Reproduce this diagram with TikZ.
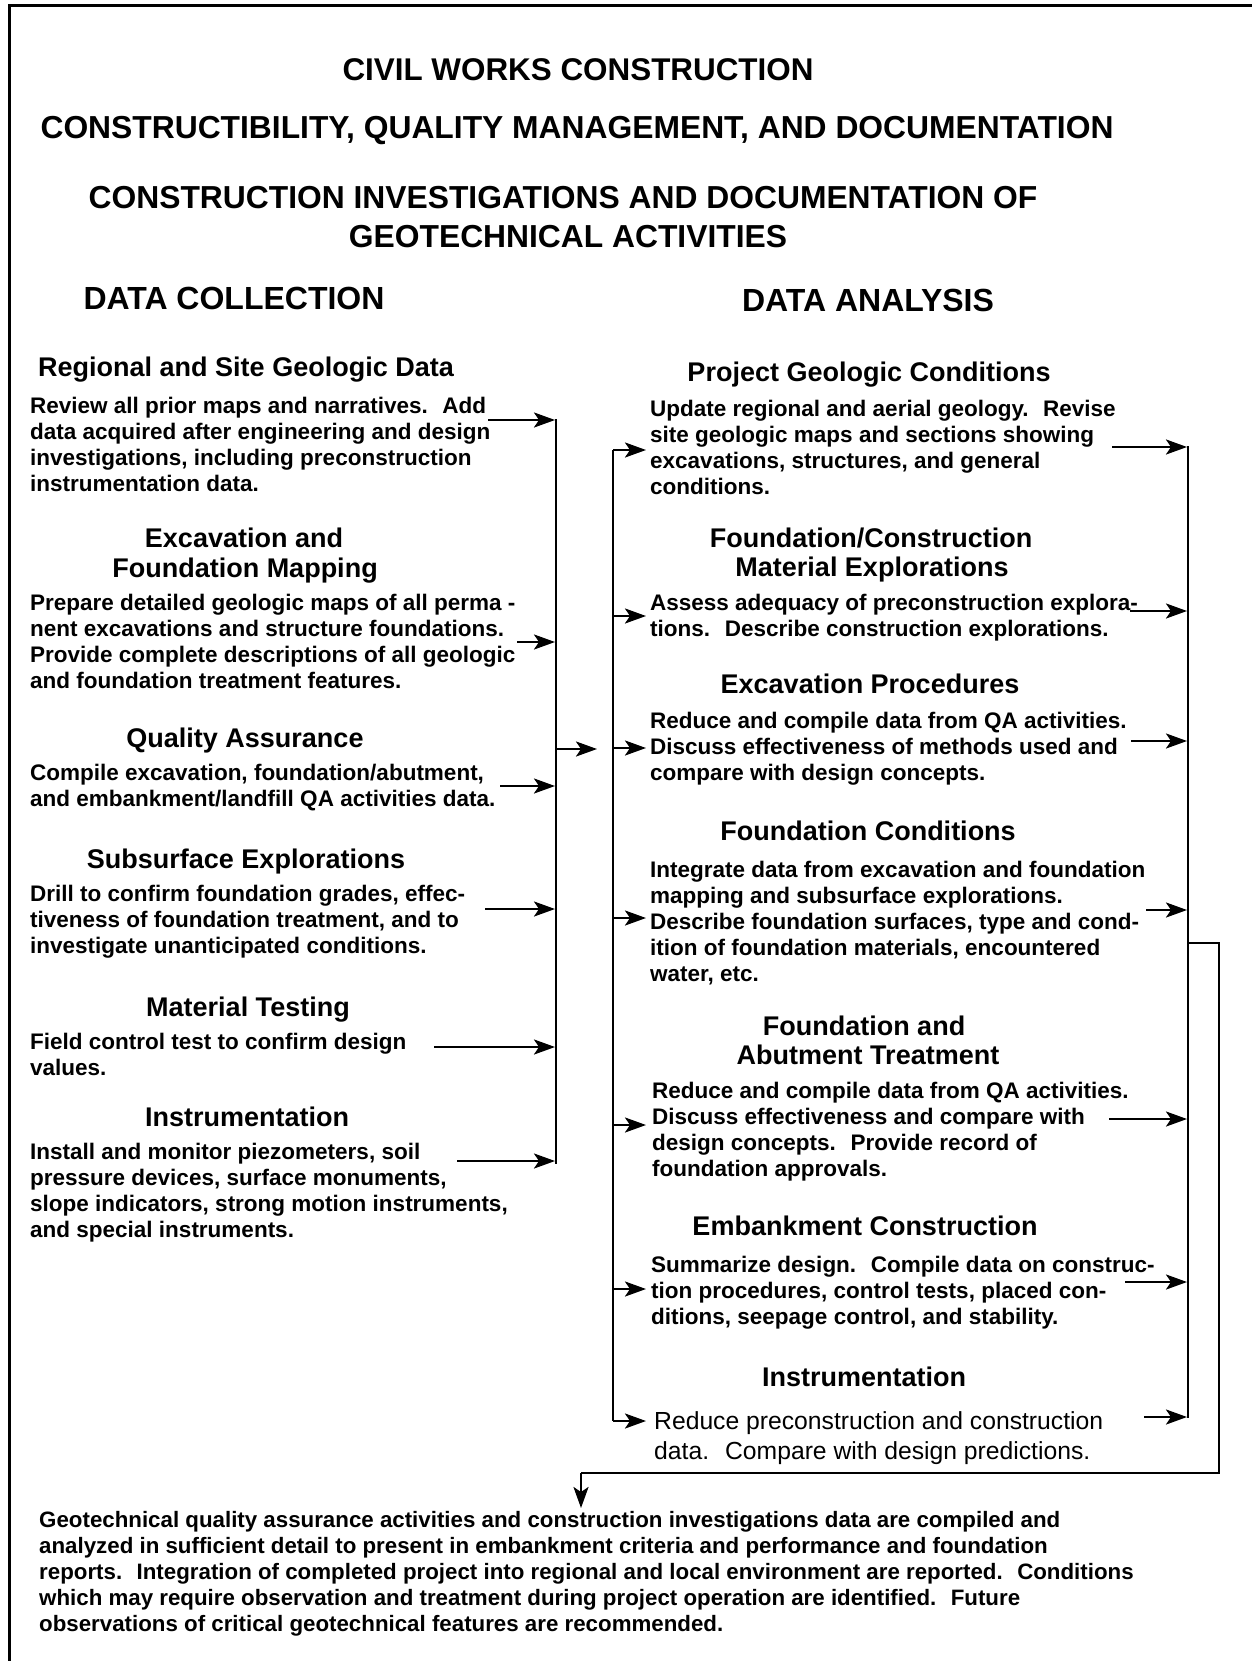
\documentclass[tikz,border=0pt]{standalone}
\usepackage{fontspec}
\setmainfont{Liberation Sans}
\usetikzlibrary{arrows.meta}
\newcommand{\bodyf}{\fontsize{22.5}{26}\selectfont\bfseries}
\newcommand{\botf}{\fontsize{22.3}{26}\selectfont\bfseries}
\newcommand{\headf}{\fontsize{27}{30}\selectfont\bfseries}
\newcommand{\titlef}{\fontsize{31.8}{38}\selectfont\bfseries}
\newcommand{\titlefa}{\fontsize{31.4}{38}\selectfont\bfseries}
\newcommand{\titlefb}{\fontsize{32}{38}\selectfont\bfseries}
\newcommand{\regf}{\fontsize{24.7}{30}\selectfont}
\tikzset{
  arr/.style={-{Stealth[length=21pt,width=15pt,inset=5pt]}, line width=2.6pt},
  bus/.style={line width=2.8pt},
  txt/.style={inner sep=0pt, anchor=base west, align=left, font=\bodyf},
  btxt/.style={inner sep=0pt, anchor=base west, align=left, font=\botf},
  rtxt/.style={inner sep=0pt, anchor=base west, align=left, font=\regf},
  head/.style={inner sep=0pt, anchor=base, font=\headf},
  ttl/.style={inner sep=0pt, anchor=base, font=\titlef},
}
\begin{document}
\begin{tikzpicture}[x=1pt,y=-1pt]
\useasboundingbox (0,0) rectangle (1252,1661);
\fill[white] (0,0) rectangle (1252,1661);
% frame
\coordinate (fBL) at (9,1661);
\coordinate (fTL) at (9,6);
\coordinate (fTR) at (1252,6);
\draw[line width=3pt] (fBL) -- (fTL) -- (fTR);

% titles
\node[ttl, font=\titlefa] (t1) at (578,81) {CIVIL WORKS CONSTRUCTION};
\node[ttl] (t2) at (577,139) {CONSTRUCTIBILITY, QUALITY MANAGEMENT, AND DOCUMENTATION};
\node[ttl] (t3a) at (563,209) {CONSTRUCTION INVESTIGATIONS AND DOCUMENTATION OF};
\node[ttl] (t3b) at (568,248) {GEOTECHNICAL ACTIVITIES};
\node[ttl, font=\titlefb] (dc) at (234,309) {DATA COLLECTION};
\node[ttl, font=\titlefb] (da) at (868,312) {DATA ANALYSIS};

% left column (base = baseline of last line)
\node[head] (lh1) at (246,376) {Regional and Site Geologic Data};
\node[txt] (lb1) at (30,491) {Review all prior maps and narratives.~ Add\\data acquired after engineering and design\\investigations, including preconstruction\\instrumentation data.};
\node[head] (lh2a) at (244,547) {Excavation and};
\node[head] (lh2b) at (245,577) {Foundation Mapping};
\node[txt] (lb2) at (30,688) {Prepare detailed geologic maps of all perma -\\nent excavations and structure foundations.\\Provide complete descriptions of all geologic\\and foundation treatment features.};
\node[head] (lh3) at (245,747) {Quality Assurance};
\node[txt] (lb3) at (30,806) {Compile excavation, foundation/abutment,\\and embankment/landfill QA activities data.};
\node[head] (lh4) at (246,868) {Subsurface Explorations};
\node[txt] (lb4) at (30,953) {Drill to confirm foundation grades, effec-\\tiveness of foundation treatment, and to\\investigate unanticipated conditions.};
\node[head] (lh5) at (248,1016) {Material Testing};
\node[txt] (lb5) at (30,1075) {Field control test to confirm design\\values.};
\node[head] (lh6) at (247,1126) {Instrumentation};
\node[txt] (lb6) at (30,1237) {Install and monitor piezometers, soil\\pressure devices, surface monuments,\\slope indicators, strong motion instruments,\\and special instruments.};

% right column
\node[head] (rh1) at (869,381) {Project Geologic Conditions};
\node[txt] (rb1) at (650,494) {Update regional and aerial geology.~ Revise\\site geologic maps and sections showing\\excavations, structures, and general\\conditions.};
\node[head] (rh2a) at (871,547) {Foundation/Construction};
\node[head] (rh2b) at (872,576) {Material Explorations};
\node[txt] (rb2) at (650,636) {Assess adequacy of preconstruction explora-\\tions.~ Describe construction explorations.};
\node[head] (rh3) at (870,693) {Excavation Procedures};
\node[txt] (rb3) at (650,780) {Reduce and compile data from QA activities.\\Discuss effectiveness of methods used and\\compare with design concepts.};
\node[head] (rh4) at (868,840) {Foundation Conditions};
\node[txt] (rb4) at (650,981) {Integrate data from excavation and foundation\\mapping and subsurface explorations.\\Describe foundation surfaces, type and cond-\\ition of foundation materials, encountered\\water, etc.};
\node[head] (rh5a) at (864,1035) {Foundation and};
\node[head] (rh5b) at (868,1064) {Abutment Treatment};
\node[txt] (rb5) at (652,1176) {Reduce and compile data from QA activities.\\Discuss effectiveness and compare with\\design concepts.~ Provide record of\\foundation approvals.};
\node[head] (rh6) at (865,1235) {Embankment Construction};
\node[txt] (rb6) at (651,1324) {Summarize design.~ Compile data on construc-\\tion procedures, control tests, placed con-\\ditions, seepage control, and stability.};
\node[head] (rh7) at (864,1386) {Instrumentation};
\node[rtxt] (rb7) at (654,1459) {Reduce preconstruction and construction\\data.~ Compare with design predictions.};

% bottom paragraph
\node[btxt] (bot) at (39,1631) {Geotechnical quality assurance activities and construction investigations data are compiled and\\analyzed in sufficient detail to present in embankment criteria and performance and foundation\\reports.~ Integration of completed project into regional and local environment are reported.~ Conditions\\which may require observation and treatment during project operation are identified.~ Future\\observations of critical geotechnical features are recommended.};

% left bus
\coordinate (lbT) at (556,419);
\coordinate (lbB) at (556,1164);
\draw[bus] (lbT) -- (lbB);
\foreach \i/\y/\x in {1/420/488, 2/642/517, 3/786/500, 4/909/485, 5/1047/434, 6/1161/457} {
  \coordinate (ls\i) at (\x,\y);
  \coordinate (le\i) at (555,\y);
  \draw[arr] (ls\i) -- (le\i);
}
\coordinate (lout) at (556,749);
\coordinate (loutE) at (597,749);
\draw[arr] (lout) -- (loutE);

% right-column input bus
\coordinate (rbT) at (613,450);
\coordinate (rbB) at (613,1421);
\draw[bus] (rbT) -- (rbB);
\foreach \i/\y in {1/450, 2/616, 3/748, 4/918, 5/1125, 6/1289, 7/1421} {
  \coordinate (ri\i) at (613,\y);
  \coordinate (rt\i) at (646,\y);
  \draw[arr] (ri\i) -- (rt\i);
}

% right output bus
\coordinate (obT) at (1188,446);
\coordinate (obB) at (1188,1418);
\draw[bus] (obT) -- (obB);
\foreach \i/\y/\x in {1/447/1112, 2/611/1130, 3/741/1131, 4/910/1146, 5/1119/1109, 6/1282/1125, 7/1417/1144} {
  \coordinate (os\i) at (\x,\y);
  \coordinate (oe\i) at (1187,\y);
  \draw[arr] (os\i) -- (oe\i);
}

% final connector
\coordinate (c1) at (1188,943);
\coordinate (c2) at (1219,943);
\coordinate (c3) at (1219,1473);
\coordinate (c4) at (581,1473);
\coordinate (c5) at (581,1508);
\draw[bus] (c1) -- (c2) -- (c3) -- (c4);
\draw[arr] (c4) -- (c5);
\end{tikzpicture}
\end{document}
